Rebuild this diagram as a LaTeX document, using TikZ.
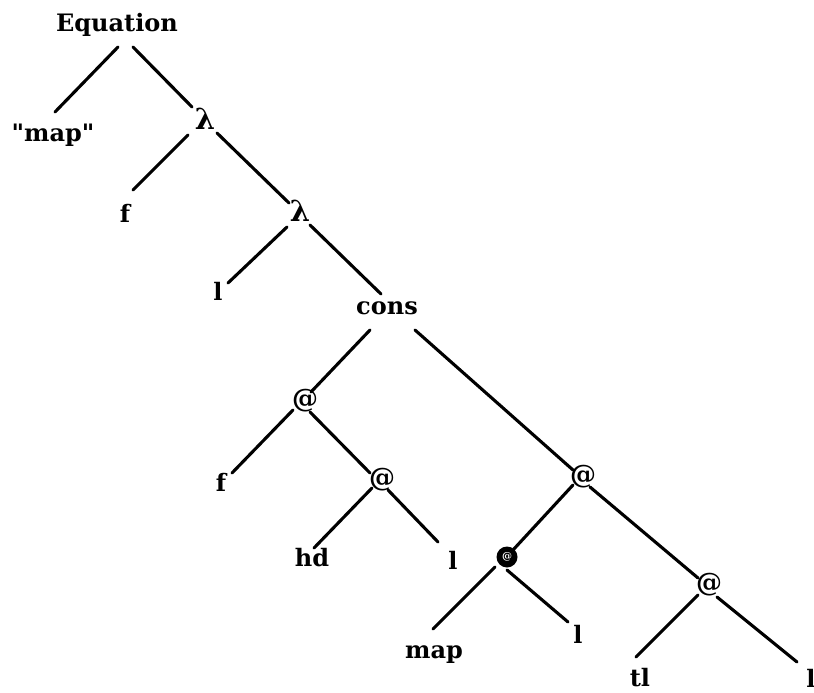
\documentclass[tikz,border=0pt]{standalone}
\usepackage{fontspec}
\newfontfamily\treefont{DejaVu Serif}
\begin{document}
\begin{tikzpicture}[x=1pt,y=-1pt,
  lbl/.style={inner sep=0pt,font=\treefont\fontsize{24}{28}\selectfont\bfseries},
  lam/.style={inner sep=0pt,font=\treefont\fontsize{29}{32}\selectfont\bfseries},
  app/.style={inner sep=0pt,font=\treefont\fontsize{26}{30}\selectfont\bfseries},
  appfill/.style={circle,fill=black,minimum size=21pt,inner sep=0pt,text=white,font=\treefont\fontsize{10}{11}\selectfont\bfseries},
  edge/.style={line width=3.1pt,line cap=round}]
\useasboundingbox (0,0) rectangle (814,693);
\newcommand\treeedge[4]{\draw[edge] ([shift={(#2)}]#1.center) -- ([shift={(#4)}]#3.center);}
% nodes
\node[lbl] (eq)   at (117,25)  {Equation};
\node[lbl] (qmap) at (53,135)  {"map"};
\node[lam] (lam1) at (205,119) {λ};
\node[lbl] (f1)   at (125,213) {f};
\node[lam] (lam2) at (300,211) {λ};
\node[lbl] (l1)   at (218,291) {l};
\node[lbl] (cons) at (387,308) {cons};
\node[app] (at1)  at (305,401) {@};
\node[lbl] (f2)   at (221,482) {f};
\node[app] (at2)  at (382,480) {@};
\node[lbl] (hd)   at (312,558) {hd};
\node[lbl] (l2)   at (453,560) {l};
\node[app] (at3)  at (583,477) {@};
\node[appfill] (at4) at (507,557) {@};
\node[lbl] (map)  at (434,655) {map};
\node[lbl] (l3)   at (578,634) {l};
\node[app] (at5)  at (709,585) {@};
\node[lbl] (tl)   at (640,678) {tl};
\node[lbl] (l4)   at (811,678) {l};
% connectors
\treeedge{eq}{1,22}{qmap}{2,-23}
\treeedge{eq}{16,22}{lam1}{-13,-12}
\treeedge{lam1}{-17,16}{f1}{8,-23}
\treeedge{lam1}{12,14}{lam2}{-11,-8}
\treeedge{lam2}{-13,16}{l1}{10,-8}
\treeedge{lam2}{10,14}{cons}{-6,-14}
\treeedge{cons}{-17,22}{at1}{6,-9}
\treeedge{cons}{28,22}{at3}{-10,-7}
\treeedge{at1}{-12,9}{f2}{11,-9}
\treeedge{at1}{5,11}{at2}{-12,-7}
\treeedge{at2}{-10,8}{hd}{2,-10}
\treeedge{at2}{6,10}{l2}{-15,-18}
\treeedge{at3}{-10,8}{at4}{6,-7}
\treeedge{at3}{7,10}{at5}{-11,-7}
\treeedge{at4}{-12,10}{map}{-1,-26}
\treeedge{at4}{0,13}{l3}{-10,-12}
\treeedge{at5}{-11,10}{tl}{-4,-21}
\treeedge{at5}{8,12}{l4}{-14,-16}
\end{tikzpicture}
\end{document}
